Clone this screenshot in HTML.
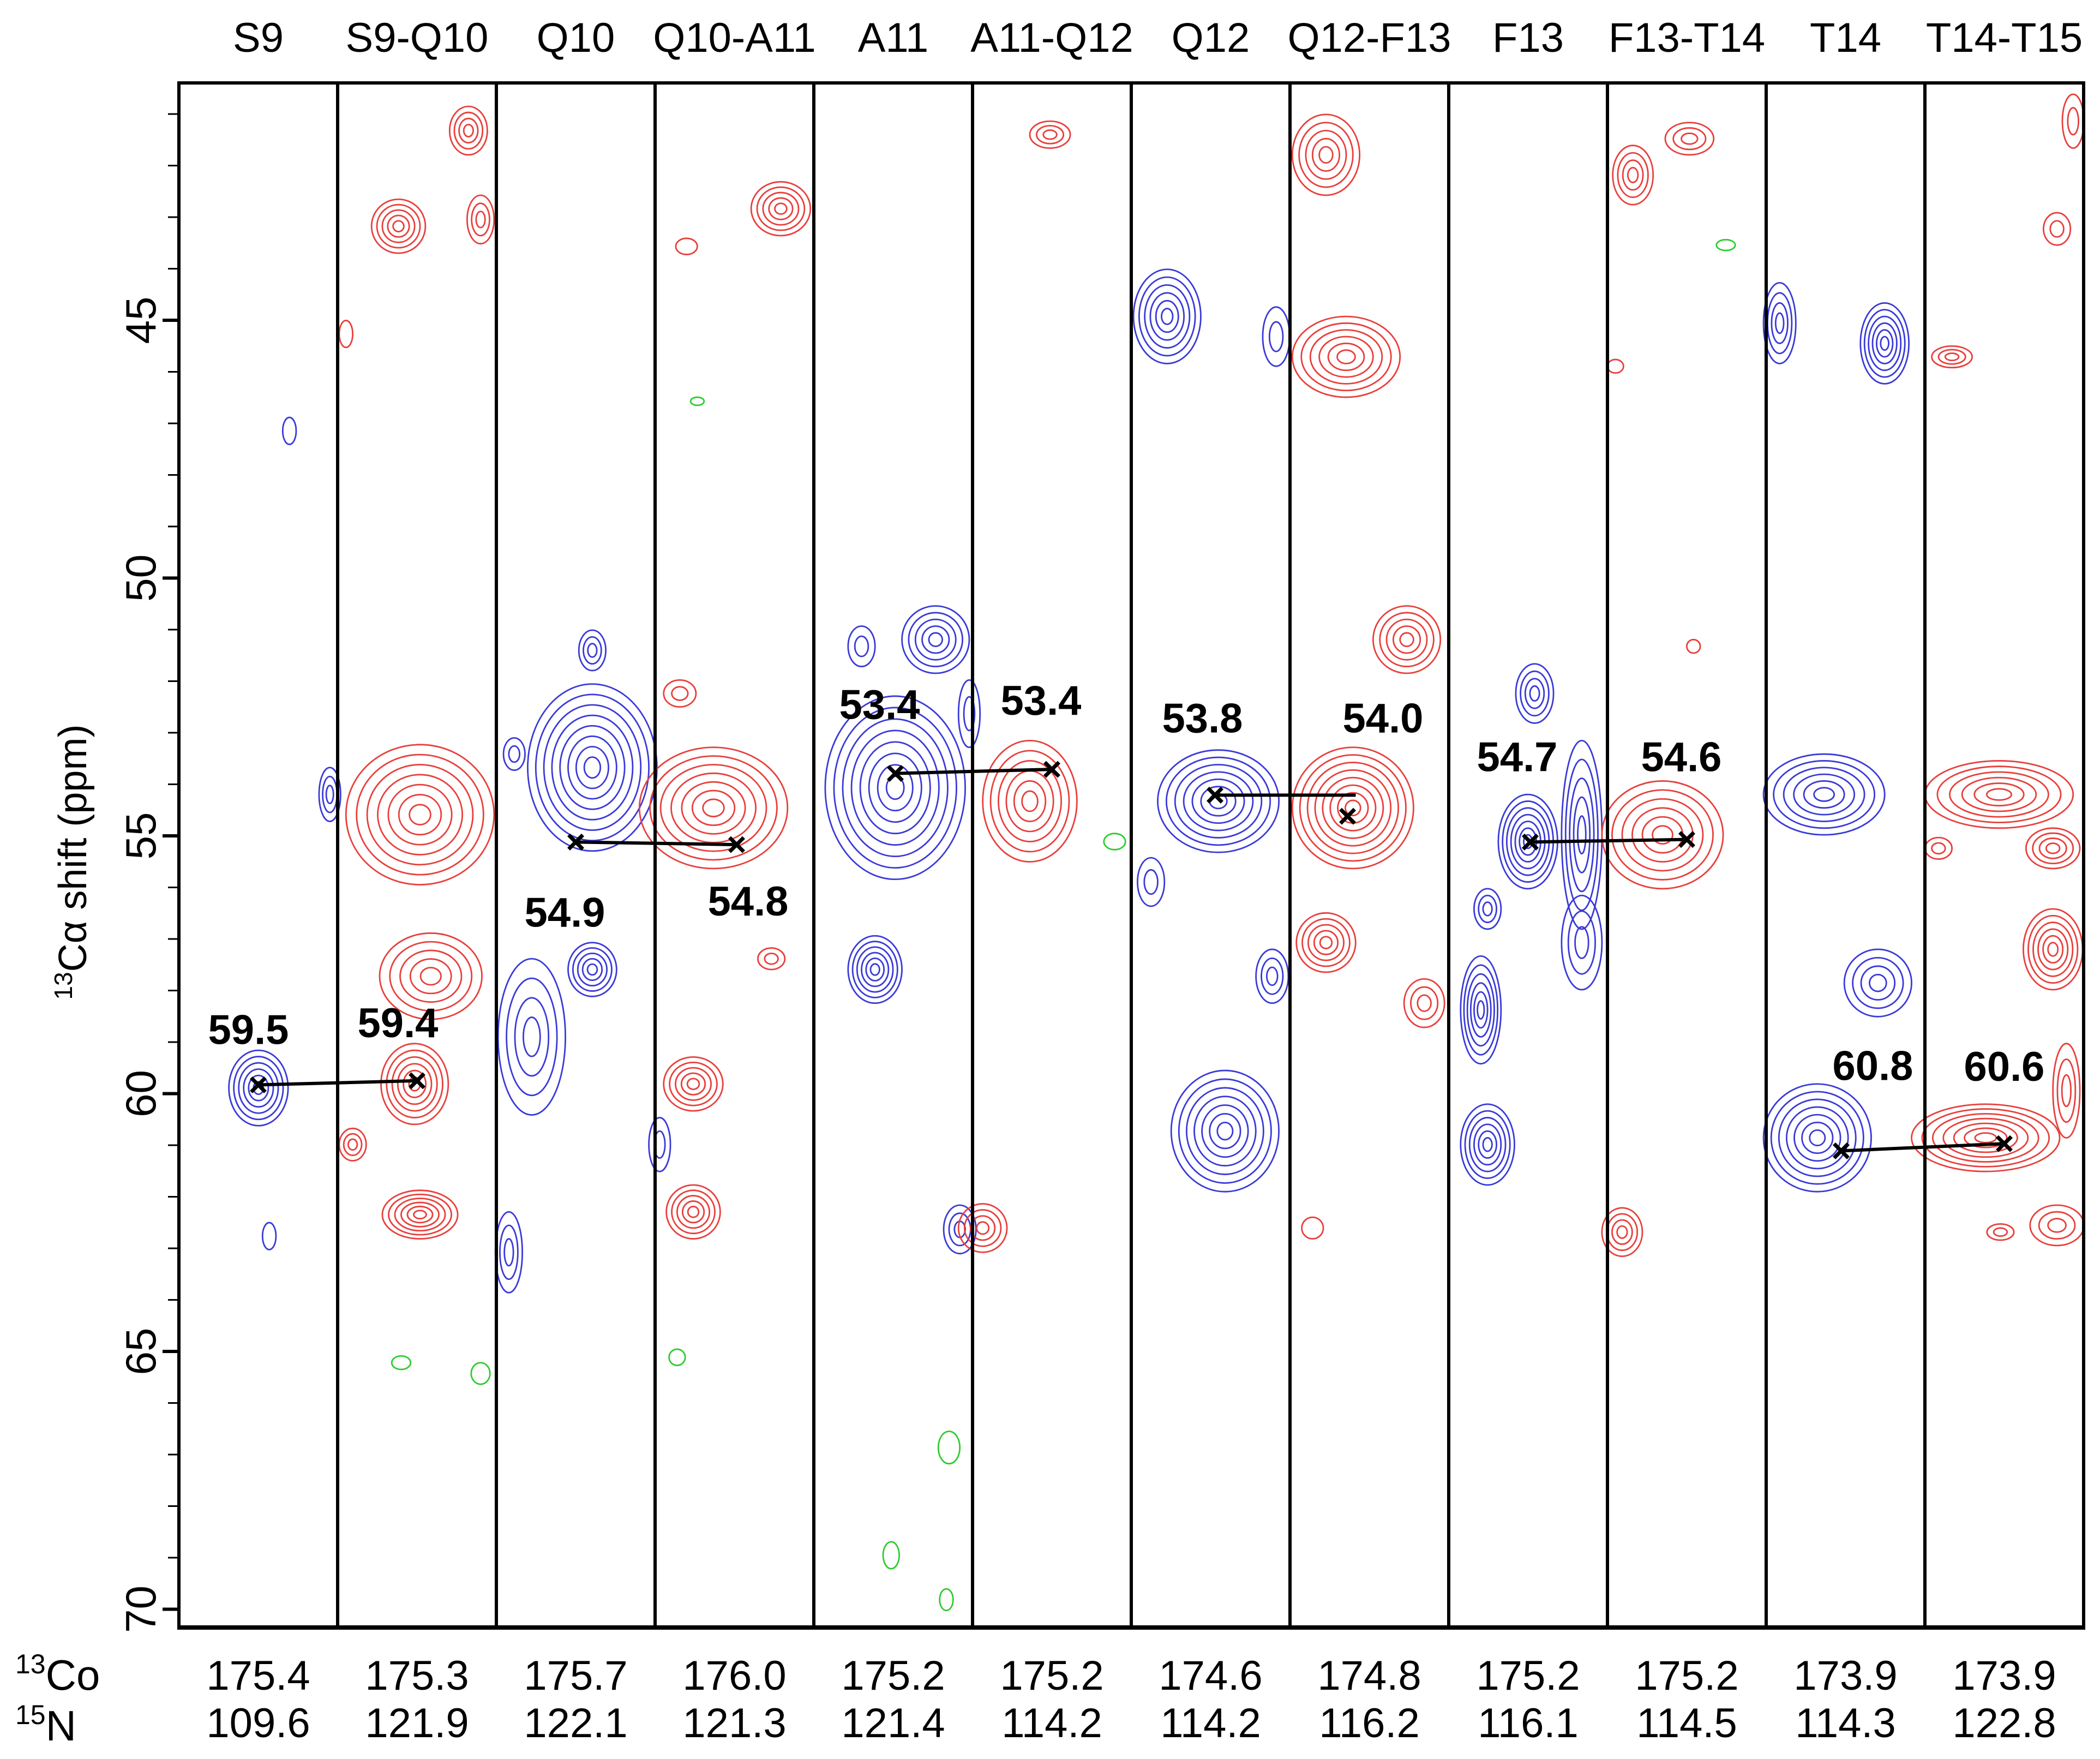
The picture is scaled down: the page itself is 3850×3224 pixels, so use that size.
<!DOCTYPE html>
<html><head><meta charset="utf-8"><style>
html,body{margin:0;padding:0;background:#fff;}
svg{display:block;font-family:"Liberation Sans",Arial,sans-serif;}
</style></head><body>
<svg id="chart" width="3850" height="3224" viewBox="0 0 3850 3224" xmlns="http://www.w3.org/2000/svg">
<g id="contours"></g>
<g id="frame"></g>
<g id="marks"></g>
<g id="labels"></g>
<text transform="translate(158,1580) rotate(-90)" text-anchor="middle" font-size="72"><tspan font-size="46" dy="-26">13</tspan><tspan dy="26">Cα shift  (ppm)</tspan></text>
<text x="28" y="3097" font-size="78"><tspan font-size="50" dy="-30">13</tspan><tspan dy="30">Co</tspan></text>
<text x="28" y="3190" font-size="78"><tspan font-size="50" dy="-30">15</tspan><tspan dy="30">N</tspan></text>
</svg>
<script>
const strips = ["S9","S9-Q10","Q10","Q10-A11","A11","A11-Q12","Q12","Q12-F13","F13","F13-T14","T14","T14-T15"];
const coValues = ["175.4","175.3","175.7","176.0","175.2","175.2","174.6","174.8","175.2","175.2","173.9","173.9"];
const nValues = ["109.6","121.9","122.1","121.3","121.4","114.2","114.2","116.2","116.1","114.5","114.3","122.8"];
const peakPpm = [59.83,59.75,55.12,55.17,53.79,53.71,54.21,54.62,55.12,55.07,61.11,60.97];
const peakLabels = ["59.5","59.4","54.9","54.8","53.4","53.4","53.8","54.0","54.7","54.6","60.8","60.6"];
const labelBelow = [false,false,true,true,false,false,false,false,false,false,false,false];
const yTicks = [45,50,55,60,65,70];

const NS="http://www.w3.org/2000/svg";
const L=328, T=152, B=2983, W=291;
const y = p => 587 + (p-45)*94.5;
const xc = i => L + W*i + W/2;
function mk(tag, attrs, parent){const e=document.createElementNS(NS,tag);for(const k in attrs)e.setAttribute(k,attrs[k]);parent.appendChild(e);return e;}
const cont=document.getElementById('contours'), frame=document.getElementById('frame'), marks=document.getElementById('marks'), labels=document.getElementById('labels');

const S=2.468;
const R='#e8403c', Bl='#3a3ad8', G='#2ecc2e';
const blobs=[
[348,97,14,18,4,R],[296,168,20,20,5,R],[357,163,10,18,3,R],[312,605,55,52,7,R],[320,725,38,32,5,R],[308,805,25,30,6,R],[312,902,28,18,6,R],[262,850,10,12,3,R],[257,248,5,10,1,R],
[192,808,22,28,6,Bl],[215,320,5,10,1,Bl],[200,918,5,10,1,Bl],[245,590,8,20,3,Bl],
[440,570,48,62,8,Bl],[440,720,18,20,5,Bl],[395,770,25,58,4,Bl],[440,483,10,15,3,Bl],[382,560,8,12,2,Bl],[378,930,10,30,3,Bl],
[530,600,55,45,7,R],[580,155,22,20,5,R],[515,805,22,20,5,R],[515,900,20,20,5,R],[505,515,12,10,2,R],[573,712,10,8,2,R],[510,183,8,6,1,R],[490,850,8,20,2,Bl],
[665,585,52,68,8,Bl],[695,475,25,25,5,Bl],[640,480,10,15,2,Bl],[650,720,20,25,6,Bl],[713,913,12,18,3,Bl],[705,1075,8,12,1,G],[662,1155,6,10,1,G],[703,1188,5,8,1,G],
[765,595,35,45,6,R],[780,100,15,10,3,R],[730,912,18,18,4,R],[720,530,8,25,2,Bl],[828,625,8,6,1,G],
[867,235,25,35,6,Bl],[905,595,45,38,7,Bl],[910,840,40,45,7,Bl],[855,655,10,18,2,Bl],[948,250,10,22,2,Bl],
[1000,265,40,30,6,R],[985,115,25,30,5,R],[1005,600,45,45,8,R],[985,700,22,22,5,R],[1045,475,25,25,5,R],[945,725,12,20,3,Bl],[1058,745,15,18,3,R],[975,912,8,8,1,R],
[1135,625,22,35,7,Bl],[1100,750,15,40,6,Bl],[1105,850,20,30,6,Bl],[1140,515,14,22,4,Bl],[1105,675,10,15,3,Bl],[1175,620,15,70,5,Bl],[1175,700,15,35,3,Bl],
[1235,620,45,40,6,R],[1213,130,15,22,4,R],[1255,103,18,12,3,R],[1205,915,15,18,4,R],[1200,272,6,5,1,R],[1258,480,5,5,1,R],[1282,182,7,4,1,G],
[1355,590,45,30,6,Bl],[1350,845,40,40,7,Bl],[1400,255,18,30,6,Bl],[1322,240,12,30,4,Bl],[1395,730,25,25,4,Bl],
[1485,590,55,25,6,R],[1475,845,55,25,7,R],[1525,705,22,30,6,R],[1450,265,15,8,3,R],[1528,170,10,12,2,R],[1528,910,20,15,3,R],[1486,915,10,6,2,R],[1440,630,10,8,2,R],[1525,630,20,15,4,R],[1535,810,10,35,3,R],[1540,90,8,20,2,R],
[298,1012,7,5,1,G],[357,1020,7,8,1,G],[518,298,5,3,1,G],[503,1008,6,6,1,G]
];
const cp=mk('clipPath',{id:'pc'},cont);
mk('rect',{x:L,y:T,width:W*12,height:B-T},cp);
cont.setAttribute('clip-path','url(#pc)');
blobs.forEach((b)=>{
  const g=mk('g',{},cont);
  
  
  for(let k=1;k<=b[4];k++){
    const f=k/b[4];
    mk('ellipse',{cx:b[0]*S,cy:b[1]*S,rx:b[2]*S*f,ry:b[3]*S*f,fill:'none',stroke:b[5],'stroke-width':2.8},g);
  }
});

for(let i=0;i<12;i++){
  const r=mk('rect',{x:L+W*i,y:T,width:W,height:B-T,fill:'none',stroke:'#000','stroke-width':6},frame);
  
  
}
mk('line',{x1:L-3,x2:L+W*12+3,y1:B,y2:B,stroke:'#000','stroke-width':8},frame);
for(let p=41;p<=70;p++){
  const major=yTicks.includes(p);
  const t=mk('line',{x1:major?L-30:L-20,x2:L,y1:y(p),y2:y(p),stroke:'#000','stroke-width':major?6:3},frame);
  
  
}
yTicks.forEach(v=>{
  const t=mk('text',{transform:`translate(285,${y(v)}) rotate(-90)`,'text-anchor':'middle','font-size':78},labels);
  t.textContent=v;
  
  
});

strips.forEach((s,i)=>{
  const h=mk('text',{x:xc(i),y:95,'text-anchor':'middle','font-size':76},labels);h.textContent=s;
  
  
  const c=mk('text',{x:xc(i),y:3097,'text-anchor':'middle','font-size':76},labels);c.textContent=coValues[i];
  
  
  const n=mk('text',{x:xc(i),y:3184,'text-anchor':'middle','font-size':76},labels);n.textContent=nValues[i];
  
  
});

const dx=[0,0,0,4,4,0,8,-40,4,0,-8,0];
const lblDx=[-18,-35,-20,25,-25,-20,-15,25,-20,-10,50,0];
const lblDy=[-75,-80,155,130,-100,-100,-115,-60,-130,-125,-130,-115];
for(let i=0;i<12;i+=2){
  const x1=xc(i)+dx[i], x2=xc(i+1)+dx[i+1];
  const y1=y(peakPpm[i]);
  const xend = (i===6)? xc(i+1)-25 : x2;
  const ln=mk('line',{x1:x1,x2:xend,y1:y1,y2:(i===6)?y1:y(peakPpm[i+1]),stroke:'#000','stroke-width':6},marks);
  
  
}
peakPpm.forEach((p,i)=>{
  const cx=xc(i)+dx[i], cy=y(p), s=13;
  const g=mk('g',{},marks);
  
  
  mk('line',{x1:cx-s,y1:cy-s,x2:cx+s,y2:cy+s,stroke:'#000','stroke-width':7},g);
  mk('line',{x1:cx-s,y1:cy+s,x2:cx+s,y2:cy-s,stroke:'#000','stroke-width':7},g);
  const ly = (i===7) ? y(peakPpm[6])+lblDy[i]-55 : cy+lblDy[i];
  const t=mk('text',{x:xc(i)+lblDx[i],y:ly,'text-anchor':'middle','font-size':76,'font-weight':'bold'},labels);
  t.textContent=peakLabels[i];
  
  
});
</script>
</body></html>
